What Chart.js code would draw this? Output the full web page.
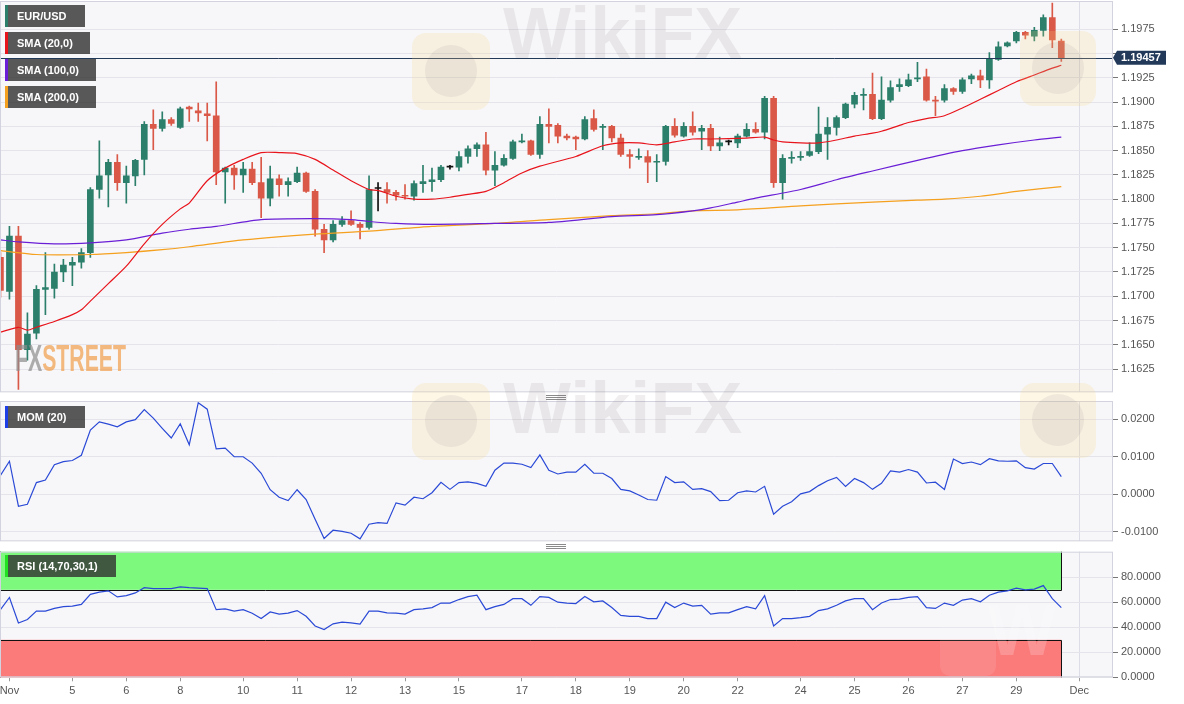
<!DOCTYPE html>
<html>
<head>
<meta charset="utf-8">
<script src="https://cdn.jsdelivr.net/npm/chart.js@4.4.0/dist/chart.umd.min.js"></script>
<style>
  body { margin: 0; background: #fff; width: 1184px; height: 704px; overflow: hidden; position: relative; font-family: "Liberation Sans", Arial, sans-serif; }
  .pane { position: absolute; left: 0; width: 1184px; }
  .tag { position: absolute; left: 5px; height: 22px; box-sizing: border-box; padding-left: 9px;
         background: rgba(48,48,48,0.8); color: #fff; font: bold 11px/22px "Liberation Sans", Arial, sans-serif; border-left: 3px solid; white-space: nowrap; }
  .wm { position: absolute; pointer-events: none; white-space: nowrap; }
  .handle { position: absolute; left: 546px; width: 20px; height: 5px;
            background: linear-gradient(#8a8a8a 0 1px, transparent 1px 2px, #8a8a8a 2px 3px, transparent 3px 4px, #8a8a8a 4px 5px); }
</style>
</head>
<body>
<div class="pane" style="top:0;height:400px"><canvas id="mainChart"></canvas></div>
<div class="pane" style="top:401px;height:146px"><canvas id="momChart"></canvas></div>
<div class="pane" style="top:551px;height:153px"><canvas id="rsiChart"></canvas></div>

<div class="handle" style="top:395px"></div>
<div class="handle" style="top:544px"></div>

<!-- watermarks -->
<div class="wm" style="left:412px;top:33px;width:78px;height:77px;border-radius:14px;background:rgba(248,214,130,0.2)"></div>
<div class="wm" style="left:412px;top:383px;width:78px;height:77px;border-radius:14px;background:rgba(248,214,130,0.2)"></div>
<div class="wm" style="left:1020px;top:31px;width:76px;height:75px;border-radius:14px;background:rgba(248,214,130,0.2)"></div>
<div class="wm" style="left:1020px;top:383px;width:76px;height:75px;border-radius:14px;background:rgba(248,214,130,0.2)"></div>
<div class="wm" style="left:425px;top:45px;width:52px;height:52px;border-radius:50%;background:rgba(120,105,120,0.1)"></div>
<div class="wm" style="left:425px;top:395px;width:52px;height:52px;border-radius:50%;background:rgba(120,105,120,0.1)"></div>
<div class="wm" style="left:1032px;top:42px;width:52px;height:52px;border-radius:50%;background:rgba(120,105,120,0.1)"></div>
<div class="wm" style="left:1032px;top:394px;width:52px;height:52px;border-radius:50%;background:rgba(120,105,120,0.1)"></div>
<div class="wm" style="left:503px;top:-3px;font:bold 72px/72px 'Liberation Sans',Arial,sans-serif;color:rgba(120,100,100,0.11)">WikiFX</div>
<div class="wm" style="left:503px;top:372px;font:bold 72px/72px 'Liberation Sans',Arial,sans-serif;color:rgba(120,100,100,0.11)">WikiFX</div>
<div class="wm" style="left:940px;top:606px;width:56px;height:70px;border-radius:10px;background:rgba(255,255,255,0.1)"></div>
<div class="wm" style="left:988px;top:594px;font:bold 72px/72px 'Liberation Sans',Arial,sans-serif;color:rgba(255,255,255,0.2)">W</div>
<div class="wm" style="left:15px;top:341px;font:bold 36px/36px 'Liberation Sans',Arial,sans-serif;transform:scaleX(0.59);transform-origin:left top"><span style="color:rgba(140,140,140,0.7)">FX</span><span style="color:rgba(240,150,60,0.65)">STREET</span></div>

<!-- legend tags -->
<div class="tag" style="top:5px;width:80px;border-left-color:#2b7f6b">EUR/USD</div>
<div class="tag" style="top:32px;width:85px;border-left-color:#e8141c">SMA (20,0)</div>
<div class="tag" style="top:59px;width:91px;border-left-color:#6a1fd6">SMA (100,0)</div>
<div class="tag" style="top:86px;width:91px;border-left-color:#f5a01e">SMA (200,0)</div>
<div class="tag" style="top:406px;width:80px;border-left-color:#1f3fe6">MOM (20)</div>
<div class="tag" style="top:555px;width:111px;border-left-color:#22e022">RSI (14,70,30,1)</div>

<script>
// x axis: candle index of each date label
const tickIdx  = [1, 8, 14, 20, 27, 33, 39, 45, 51, 58, 64, 70, 76, 82, 89, 95, 101, 107, 113, 120];
const tickText = ['Nov', '5', '6', '8', '10', '11', '12', '13', '15', '17', '18', '19', '20', '22', '24', '25', '26', '27', '29', 'Dec'];

const priceTicks = [1.1625, 1.1650, 1.1675, 1.1700, 1.1725, 1.1750, 1.1775, 1.1800, 1.1825, 1.1850, 1.1875, 1.1900, 1.1925, 1.1950, 1.1975];
const momTicks = [-0.01, 0, 0.01, 0.02];
const rsiTicks = [0, 20, 40, 60, 80];
const rsiUpper = 70;
const rsiLower = 30;

// EUR/USD 4h candles
const openP = [1.1740,1.1705,1.1762,1.1645,1.1662,1.1707,1.1708,1.1725,1.1732,1.1735,
  1.1745,1.1810,1.1825,1.1838,1.1817,1.1824,1.1841,1.1877,1.1873,1.1882,
  1.1874,1.1895,1.1891,1.1888,1.1886,1.1828,1.1832,1.1825,1.1831,1.1817,
  1.1801,1.1821,1.1815,1.1818,1.1827,1.1808,1.1769,1.1758,1.1774,1.1778,
  1.1774,1.1771,1.1811,1.1810,1.1807,1.1804,1.1803,1.1816,1.1818,1.1820,
  1.1833,1.1833,1.1844,1.1852,1.1856,1.1830,1.1835,1.1842,1.1859,1.1860,
  1.1846,1.1877,1.1876,1.1865,1.1864,1.1862,1.1883,1.1874,1.1875,1.1863,
  1.1846,1.1843,1.1844,1.1838,1.1839,1.1875,1.1865,1.1875,1.1870,1.1873,
  1.1855,1.1859,1.1858,1.1865,1.1872,1.1869,1.1904,1.1817,1.1842,1.1843,
  1.1845,1.1849,1.1867,1.1874,1.1884,1.1898,1.1907,1.1908,1.1883,1.1902,
  1.1916,1.1917,1.1924,1.1926,1.1902,1.1902,1.1914,1.1911,1.1924,1.1927,
  1.1923,1.1944,1.1958,1.1963,1.1972,1.1968,1.1974,1.1987,1.1963];
const highP = [1.1745,1.1772,1.1772,1.1683,1.1711,1.1745,1.1733,1.1738,1.1740,1.1749,
  1.1812,1.1860,1.1841,1.1846,1.1834,1.1841,1.1880,1.1892,1.1890,1.1884,
  1.1895,1.1896,1.1899,1.1899,1.1921,1.1833,1.1835,1.1838,1.1838,1.1843,
  1.1834,1.1825,1.1822,1.1833,1.1828,1.1810,1.1774,1.1778,1.1782,1.1788,
  1.1776,1.1824,1.1817,1.1817,1.1809,1.1815,1.1819,1.1835,1.1832,1.1835,
  1.1835,1.1849,1.1855,1.1858,1.1869,1.1849,1.1846,1.1861,1.1867,1.1861,
  1.1885,1.1893,1.1878,1.1867,1.1865,1.1885,1.1892,1.1877,1.1876,1.1867,
  1.1851,1.1852,1.1850,1.1846,1.1876,1.1883,1.1879,1.1890,1.1876,1.1877,
  1.1864,1.1861,1.1867,1.1878,1.1879,1.1906,1.1906,1.1846,1.1849,1.1849,
  1.1858,1.1895,1.1884,1.1886,1.1899,1.1910,1.1914,1.1930,1.1926,1.1922,
  1.1924,1.1929,1.1941,1.1934,1.1906,1.1918,1.1915,1.1925,1.1929,1.1933,
  1.1951,1.1962,1.1962,1.1973,1.1973,1.1977,1.1990,1.2002,1.1965];
const lowP = [1.1699,1.1697,1.1604,1.1634,1.1656,1.1681,1.1698,1.1715,1.1711,1.1729,
  1.1740,1.1801,1.1792,1.1809,1.1796,1.1814,1.1825,1.1851,1.1870,1.1876,
  1.1873,1.1880,1.1880,1.1860,1.1815,1.1796,1.1810,1.1807,1.1815,1.1781,
  1.1793,1.1803,1.1803,1.1817,1.1807,1.1762,1.1745,1.1756,1.1772,1.1773,
  1.1759,1.1769,1.1788,1.1796,1.1799,1.1800,1.1799,1.1807,1.1808,1.1818,
  1.1831,1.1829,1.1837,1.1844,1.1825,1.1814,1.1834,1.1841,1.1858,1.1845,
  1.1842,1.1858,1.1858,1.1861,1.1851,1.1861,1.1870,1.1851,1.1859,1.1844,
  1.1832,1.1841,1.1817,1.1818,1.1835,1.1864,1.1864,1.1866,1.1851,1.1850,
  1.1850,1.1856,1.1853,1.1864,1.1868,1.1862,1.1812,1.1800,1.1837,1.1840,
  1.1844,1.1847,1.1841,1.1866,1.1883,1.1894,1.1892,1.1882,1.1882,1.1900,
  1.1911,1.1916,1.1921,1.1901,1.1886,1.1900,1.1908,1.1909,1.1919,1.1915,
  1.1914,1.1943,1.1957,1.1961,1.1965,1.1963,1.1968,1.1956,1.1942];
const closeP = [1.1706,1.1762,1.1645,1.1661,1.1707,1.1709,1.1725,1.1732,1.1735,1.1745,
  1.1810,1.1824,1.1838,1.1817,1.1824,1.1840,1.1877,1.1873,1.1882,1.1878,
  1.1893,1.1893,1.1889,1.1886,1.1828,1.1832,1.1825,1.1831,1.1817,1.1801,
  1.1821,1.1815,1.1818,1.1827,1.1808,1.1769,1.1758,1.1774,1.1778,1.1774,
  1.1771,1.1810,1.1811,1.1807,1.1804,1.1803,1.1816,1.1818,1.1820,1.1833,
  1.1833,1.1844,1.1852,1.1856,1.1830,1.1835,1.1842,1.1859,1.1860,1.1846,
  1.1877,1.1875,1.1865,1.1863,1.1862,1.1882,1.1872,1.1875,1.1863,1.1846,
  1.1844,1.1844,1.1838,1.1839,1.1875,1.1866,1.1875,1.1869,1.1873,1.1855,
  1.1858,1.1859,1.1865,1.1872,1.1869,1.1904,1.1817,1.1842,1.1843,1.1844,
  1.1849,1.1867,1.1874,1.1884,1.1898,1.1907,1.1908,1.1883,1.1902,1.1915,
  1.1918,1.1923,1.1925,1.1902,1.1901,1.1914,1.1911,1.1923,1.1927,1.1923,
  1.1944,1.1957,1.1961,1.1972,1.1969,1.1974,1.1987,1.1964,1.19457];

// moving averages, read at [candle index, price]
const sma20 = [[0,1.1663],[2,1.1668],[3,1.1665],[4,1.1668],[6,1.1674],[8,1.1681],[9,1.1686],[10,1.1695],[12,1.1713],[14,1.1731],
  [16,1.1754],[18,1.1774],[20,1.1790],[21,1.1796],[23,1.1819],[25,1.1832],[27,1.1841],[29,1.1848],[31,1.1848],[33,1.1847],
  [35,1.1841],[37,1.1830],[39,1.1819],[41,1.1810],[42,1.1809],[44,1.1803],[46,1.1800],[48,1.1800],[50,1.1802],[52,1.1805],
  [54,1.1808],[56,1.1817],[58,1.1827],[60,1.1834],[64,1.1844],[67,1.1855],[69,1.1858],[71,1.1858],[73,1.1856],[75,1.1859],
  [77,1.1862],[79,1.1862],[83,1.1863],[85,1.1864],[86,1.1861],[87,1.1859],[89,1.1858],[91,1.1858],[93,1.1861],[95,1.1865],
  [97,1.1868],[98,1.1870],[100,1.1876],[101,1.1879],[103,1.1883],[105,1.1886],[107,1.1894],[109,1.1903],[111,1.1912],[113,1.1921],
  [115,1.1928],[117,1.1935],[118,1.1938]];
const sma100 = [[0,1.1758],[2,1.1756],[6,1.1754],[10,1.1755],[14,1.1758],[18,1.1765],[21,1.1769],[24,1.1772],[29,1.1779],[35,1.1780],
  [39,1.1779],[41,1.1777],[44,1.1775],[48,1.1774],[55,1.1775],[61,1.1776],[68,1.1782],[73,1.1784],[77,1.1788],[79,1.1791],
  [82,1.1797],[84,1.1801],[89,1.1810],[93,1.1820],[97,1.1829],[102,1.1840],[107,1.1850],[111,1.1856],[115,1.1861],[118,1.1864]];
const sma200 = [[0,1.1747],[4,1.1743],[10,1.1743],[14,1.1745],[18,1.1748],[21,1.1751],[27,1.1758],[35,1.1764],[41,1.1767],[48,1.1772],
  [55,1.1775],[61,1.1779],[68,1.1783],[73,1.1785],[77,1.1788],[82,1.1789],[89,1.1793],[97,1.1797],[102,1.1799],[105,1.1800],
  [109,1.1803],[113,1.1808],[118,1.1813]];

// indicators, one per candle
const mom = [0.0050,0.0088,-0.0032,-0.0027,0.0031,0.0038,0.0079,0.0087,0.0090,0.0104,
  0.0171,0.0193,0.0187,0.0180,0.0193,0.0199,0.0226,0.0203,0.0176,0.0150,
  0.0188,0.0132,0.0244,0.0227,0.0121,0.0123,0.0100,0.0100,0.0083,0.0056,
  0.0012,-0.0008,-0.0017,0.0012,-0.0014,-0.0067,-0.0118,-0.0096,-0.0099,-0.0104,
  -0.0119,-0.0080,-0.0076,-0.0078,-0.0023,-0.0029,-0.0008,-0.0012,0.0004,0.0032,
  0.0013,0.0031,0.0033,0.0029,0.0021,0.0064,0.0083,0.0083,0.0080,0.0071,
  0.0105,0.0064,0.0054,0.0059,0.0059,0.0080,0.0056,0.0056,0.0042,0.0013,
  0.0009,-0.0002,-0.0014,-0.0016,0.0047,0.0031,0.0033,0.0013,0.0015,0.0007,
  -0.0017,-0.0016,0.0004,0.0009,0.0006,0.0021,-0.0053,-0.0032,-0.0020,0.0001,
  0.0007,0.0023,0.0036,0.0045,0.0021,0.0042,0.0031,0.0013,0.0029,0.0062,
  0.0059,0.0066,0.0059,0.0030,0.0032,0.0013,0.0094,0.0082,0.0086,0.0079,
  0.0095,0.0089,0.0088,0.0089,0.0071,0.0067,0.0082,0.0082,0.0047];
const rsi = [54.1,63.9,43.5,46.3,53.0,53.0,55.1,56.5,56.9,58.3,
  66.4,68.2,69.2,64.3,65.3,67.5,71.7,71.0,71.0,71.0,
  72.4,71.7,71.3,71.0,54.1,54.8,53.0,54.1,51.3,47.0,
  52.3,50.6,51.3,53.4,48.8,41.1,38.2,42.8,44.2,43.5,
  42.5,53.0,53.0,51.6,51.3,50.6,54.1,54.8,55.8,59.4,
  59.4,62.2,64.6,65.7,54.1,56.5,58.3,62.9,62.9,57.6,
  64.6,63.9,60.1,59.4,59.0,64.6,60.4,61.1,55.8,49.5,
  48.8,48.8,47.0,47.0,60.1,55.8,59.4,56.9,57.6,50.6,
  51.6,51.6,54.1,56.5,54.8,65.3,41.1,47.0,47.0,47.7,
  48.8,53.4,54.8,57.6,61.1,62.9,62.9,54.1,59.4,62.2,
  62.5,63.9,64.6,55.8,55.1,59.4,57.6,61.8,62.9,60.4,
  65.7,68.2,69.2,71.3,69.9,70.6,73.4,62.9,55.8];

const lastIdx = closeP.length - 1;
const lastClose = closeP[lastIdx];

Chart.defaults.font.family = '"Liberation Sans", Arial, sans-serif';
Chart.defaults.font.size = 11;
Chart.defaults.color = '#555';

const UP = '#2b7f6b', DOWN = '#da5847', FLAT = '#111';
function candleColor(i) {
    if (closeP[i] > openP[i]) return UP;
    if (closeP[i] < openP[i]) return DOWN;
    return FLAT;
}

function xScale(showLabels) {
    return {
        type: 'linear', min: -0.05, max: 123.75, offset: false,
        afterBuildTicks: s => { s.ticks = tickIdx.map(v => ({ value: v })); },
        grid: {
            offset: false, drawTicks: showLabels, tickLength: 4,
            color: c => (c.tick && c.tick.value === 120) ? '#dcdde6' : 'rgba(0,0,0,0)',
            tickColor: '#999'
        },
        border: { display: false },
        ticks: {
            display: showLabels, autoSkip: false, maxRotation: 0, padding: 3, color: '#555',
            callback: v => tickText[tickIdx.indexOf(v)]
        },
        afterFit: s => { s.height = showLabels ? 26.7 : 0; s.paddingLeft = 0; s.paddingRight = 0; }
    };
}

function yScale(min, max, ticks, fmt) {
    return {
        position: 'right', min: min, max: max,
        afterBuildTicks: s => { s.ticks = ticks.map(v => ({ value: v })); },
        grid: { color: '#e4e4ea', tickLength: 5, tickColor: '#777' },
        border: { display: false },
        ticks: { padding: 3, color: '#555', callback: fmt },
        afterFit: s => { s.width = 71; s.paddingTop = 0; s.paddingBottom = 0; }
    };
}

const panel = {
    id: 'panel',
    beforeDraw(chart) {
        const a = chart.chartArea, ctx = chart.ctx;
        ctx.save();
        ctx.fillStyle = '#f7f7f9';
        ctx.fillRect(a.left, a.top, a.right - a.left, a.bottom - a.top);
        ctx.restore();
    },
    afterDraw(chart) {
        const a = chart.chartArea, ctx = chart.ctx;
        ctx.save();
        ctx.strokeStyle = '#d2d3de';
        ctx.lineWidth = 1;
        ctx.strokeRect(a.left + 0.5, a.top + 0.5, a.right - a.left - 1, a.bottom - a.top - 1);
        ctx.restore();
    }
};

const priceLine = {
    id: 'priceLine',
    afterDatasetsDraw(chart) {
        const a = chart.chartArea, ctx = chart.ctx;
        const y = Math.round(chart.scales.y.getPixelForValue(lastClose)) + 0.5;
        ctx.save();
        ctx.strokeStyle = '#22395a';
        ctx.lineWidth = 1;
        ctx.beginPath();
        ctx.moveTo(a.left, y);
        ctx.lineTo(a.right, y);
        ctx.stroke();
        ctx.restore();
    },
    afterDraw(chart) {
        const a = chart.chartArea, ctx = chart.ctx;
        const y = chart.scales.y.getPixelForValue(lastClose);
        const x0 = a.right + 4;
        ctx.save();
        ctx.fillStyle = '#22395a';
        ctx.beginPath();
        ctx.moveTo(a.right, y);
        ctx.lineTo(x0, y - 7);
        ctx.lineTo(x0 + 49, y - 7);
        ctx.lineTo(x0 + 49, y + 7);
        ctx.lineTo(x0, y + 7);
        ctx.closePath();
        ctx.fill();
        ctx.fillStyle = '#fff';
        ctx.font = 'bold 11px "Liberation Sans", Arial, sans-serif';
        ctx.textBaseline = 'middle';
        ctx.fillText(lastClose.toFixed(5), x0 + 4, y + 0.5);
        ctx.restore();
    }
};

const rsiBands = {
    id: 'rsiBands',
    beforeDatasetsDraw(chart) {
        const a = chart.chartArea, ctx = chart.ctx;
        const xs = chart.scales.x, ys = chart.scales.y;
        const right = xs.getPixelForValue(lastIdx);
        const yUp = ys.getPixelForValue(rsiUpper), yLo = ys.getPixelForValue(rsiLower);
        ctx.save();
        ctx.fillStyle = '#7dfa7d';
        ctx.fillRect(a.left, a.top, right - a.left, yUp - a.top);
        ctx.fillStyle = '#fb7b7b';
        ctx.fillRect(a.left, yLo, right - a.left, a.bottom - yLo);
        ctx.strokeStyle = '#111';
        ctx.lineWidth = 1;
        ctx.beginPath();
        ctx.moveTo(a.left, Math.round(yUp) + 0.5);
        ctx.lineTo(Math.round(right) + 0.5, Math.round(yUp) + 0.5);
        ctx.lineTo(Math.round(right) + 0.5, a.top);
        ctx.moveTo(a.left, Math.round(yLo) + 0.5);
        ctx.lineTo(Math.round(right) + 0.5, Math.round(yLo) + 0.5);
        ctx.lineTo(Math.round(right) + 0.5, a.bottom);
        ctx.moveTo(a.left + 0.5, a.top);
        ctx.lineTo(a.left + 0.5, yUp);
        ctx.moveTo(a.left + 0.5, yLo);
        ctx.lineTo(a.left + 0.5, a.bottom);
        ctx.stroke();
        ctx.restore();
    }
};

const common = {
    responsive: true, maintainAspectRatio: false, animation: false, events: [],
    plugins: { legend: { display: false }, tooltip: { enabled: false } }
};

function smaLine(points, color) {
    return {
        type: 'line', data: points.map(p => ({ x: p[0], y: p[1] })),
        borderColor: color, borderWidth: 1.2, pointRadius: 0, tension: 0.25, order: 0
    };
}

// PRICE PANEL
new Chart(document.getElementById('mainChart'), {
    type: 'bar',
    data: {
        datasets: [
            smaLine(sma20, '#e8141c'),
            smaLine(sma100, '#6a1fd6'),
            smaLine(sma200, '#f5a01e'),
            {
                label: 'body', data: openP.map((o, i) => ({ x: i, y: [o, closeP[i]] })),
                backgroundColor: c => candleColor(c.dataIndex), barThickness: 6, minBarLength: 1,
                grouped: false, order: 1
            },
            {
                label: 'wick', data: lowP.map((l, i) => ({ x: i, y: [l, highP[i]] })),
                backgroundColor: c => candleColor(c.dataIndex), barThickness: 1,
                grouped: false, order: 2
            }
        ]
    },
    options: Object.assign({}, common, {
        layout: { padding: { top: 1, bottom: 7.7, left: 0, right: 0 } },
        scales: {
            x: xScale(false),
            y: yScale(1.16010, 1.20042, priceTicks, v => Math.abs(v - lastClose) < 0.001 ? '' : v.toFixed(4))
        }
    }),
    plugins: [panel, priceLine]
});

// MOMENTUM PANEL
new Chart(document.getElementById('momChart'), {
    type: 'line',
    data: {
        datasets: [{
            data: mom.map((v, i) => ({ x: i, y: v })),
            borderColor: '#2a49d6', borderWidth: 1.2, pointRadius: 0, tension: 0
        }]
    },
    options: Object.assign({}, common, {
        layout: { padding: { top: 0, bottom: 5.7, left: 0, right: 0 } },
        scales: {
            x: xScale(false),
            y: yScale(-0.01256, 0.02488, momTicks, v => v.toFixed(4))
        }
    }),
    plugins: [panel]
});

// RSI PANEL
new Chart(document.getElementById('rsiChart'), {
    type: 'line',
    data: {
        datasets: [{
            data: rsi.map((v, i) => ({ x: i, y: v })),
            borderColor: '#2a49d6', borderWidth: 1.2, pointRadius: 0, tension: 0
        }]
    },
    options: Object.assign({}, common, {
        layout: { padding: { top: 0.7, bottom: 0, left: 0, right: 0 } },
        scales: {
            x: xScale(true),
            y: yScale(0, 100.5, rsiTicks, v => v.toFixed(4))
        }
    }),
    plugins: [panel, rsiBands]
});
</script>
</body>
</html>
